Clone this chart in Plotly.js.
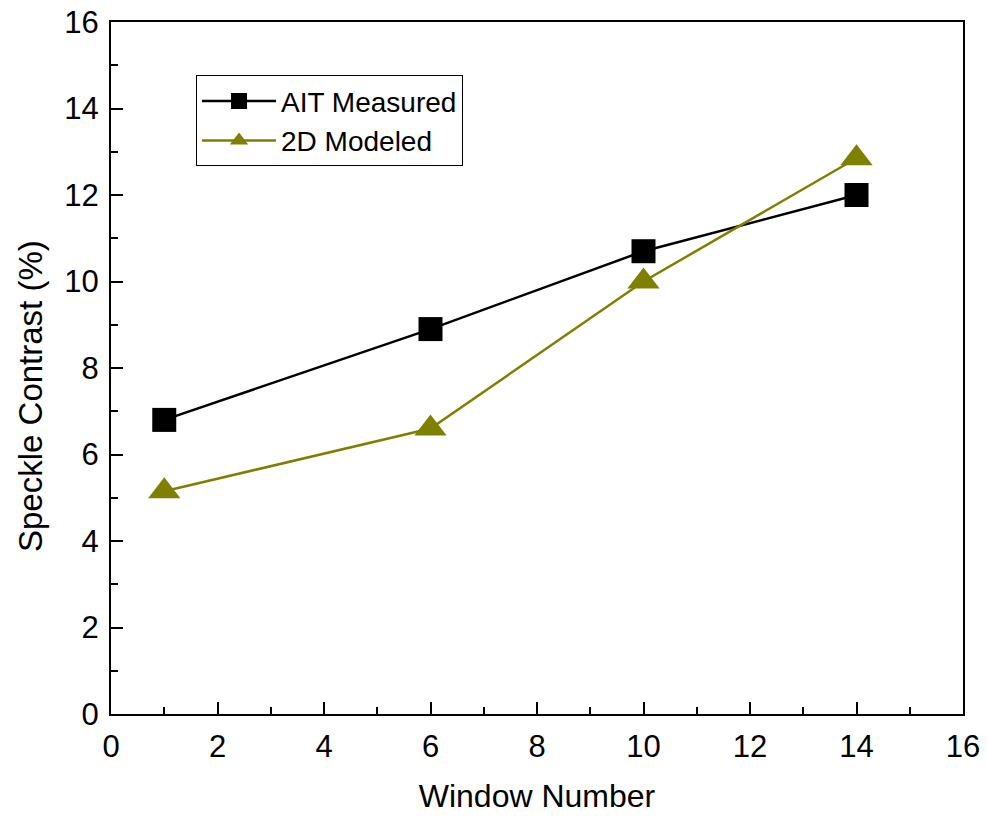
<!DOCTYPE html>
<html>
<head>
<meta charset="utf-8">
<script src="https://cdn.plot.ly/plotly-3.0.1.min.js"></script>
<style>html,body{margin:0;padding:0;background:#fff;}#chart{width:987px;height:818px;}</style>
</head>
<body>
<div id="chart"></div>
<script>
const windowNumbers = [1, 6, 10, 14];
const aitMeasured = [6.8, 8.9, 10.7, 12.0];
const modeled2D = [5.15, 6.6, 10.0, 12.85];
const seriesNames = ["AIT Measured", "2D Modeled"];
const xTitle = "Window Number";
const yTitle = "Speckle Contrast (%)";

const font = "Arial, 'Liberation Sans', sans-serif";

const traces = [
  {
    x: windowNumbers, y: aitMeasured, name: seriesNames[0],
    mode: "lines+markers", type: "scatter",
    line: {color: "#000000", width: 2.5},
    marker: {symbol: "square", size: 24, color: "#000000"}
  },
  {
    x: windowNumbers, y: modeled2D, name: seriesNames[1],
    mode: "lines+markers", type: "scatter",
    line: {color: "#808000", width: 2.5},
    marker: {symbol: "triangle-up", size: 28, color: "#808000"}
  }
];

const axisCommon = {
  range: [0, 16], dtick: 2, tick0: 0,
  showgrid: false, zeroline: false,
  showline: true, linecolor: "#000", linewidth: 2, mirror: true,
  ticks: "inside", ticklen: 12, tickwidth: 2, tickcolor: "#000",
  minor: {dtick: 1, ticks: "inside", ticklen: 7, tickwidth: 2, tickcolor: "#000"},
  tickfont: {family: font, size: 31, color: "#000"},
  fixedrange: true
};

const layout = {
  width: 987, height: 818,
  margin: {l: 111, r: 24, t: 22, b: 104},
  paper_bgcolor: "#fff", plot_bgcolor: "#fff",
  font: {family: font, color: "#000"},
  xaxis: Object.assign({}, axisCommon, {
    title: {text: xTitle, font: {family: font, size: 32}, standoff: 21},
    ticklabelstandoff: 4
  }),
  yaxis: Object.assign({}, axisCommon, {
    ticklabelstandoff: 4
  }),
  annotations: [{
    text: yTitle, textangle: -90, showarrow: false,
    xref: "paper", yref: "paper", x: -0.0951, y: 0.4595,
    xanchor: "center", yanchor: "middle",
    font: {family: font, size: 33, color: "#000"}
  }],
  showlegend: true,
  legend: {
    x: 0.0998, y: 0.923, xanchor: "left", yanchor: "top",
    bordercolor: "#000", borderwidth: 1, bgcolor: "#fff",
    font: {family: font, size: 28, color: "#000"},
    itemwidth: 74, tracegroupgap: 0
  }
};

Plotly.newPlot("chart", traces, layout, {displayModeBar: false, staticPlot: true});
</script>
</body>
</html>
